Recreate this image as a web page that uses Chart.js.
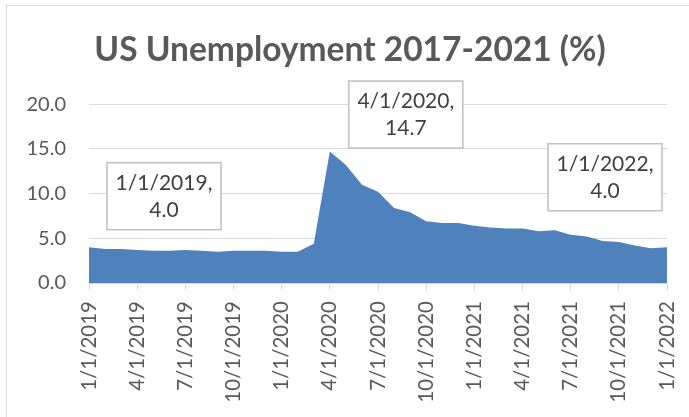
<!DOCTYPE html>
<html>
<head>
<meta charset="utf-8">
<script src="https://cdn.jsdelivr.net/npm/chart.js@4"></script>
<style>
  html, body { margin: 0; padding: 0; background: #fff; overflow: hidden; }
  #wrap { position: relative; width: 689px; height: 417px; }
  #frame { position: absolute; left: 6px; top: 5px; width: 720px; height: 440px; border: 1px solid #d9d9d9; }
  #chart { position: absolute; left: 0; top: 0; }
</style>
</head>
<body>
<div id="wrap">
  <div id="frame"></div>
  <canvas id="chart" width="689" height="417"></canvas>
</div>
<script>
// monthly dates, 1/1/2019 .. 1/1/2022
const months = [
  '1/1/2019', '2/1/2019', '3/1/2019', '4/1/2019', '5/1/2019', '6/1/2019',
  '7/1/2019', '8/1/2019', '9/1/2019', '10/1/2019', '11/1/2019', '12/1/2019',
  '1/1/2020', '2/1/2020', '3/1/2020', '4/1/2020', '5/1/2020', '6/1/2020',
  '7/1/2020', '8/1/2020', '9/1/2020', '10/1/2020', '11/1/2020', '12/1/2020',
  '1/1/2021', '2/1/2021', '3/1/2021', '4/1/2021', '5/1/2021', '6/1/2021',
  '7/1/2021', '8/1/2021', '9/1/2021', '10/1/2021', '11/1/2021', '12/1/2021',
  '1/1/2022'
];
const unemployment = [
  4.0, 3.8, 3.8, 3.7, 3.6, 3.6, 3.7, 3.6, 3.5, 3.6, 3.6, 3.6,
  3.5, 3.5, 4.4, 14.7, 13.2, 11.0, 10.2, 8.4, 7.9, 6.9, 6.7, 6.7,
  6.4, 6.2, 6.1, 6.1, 5.8, 5.9, 5.4, 5.2, 4.7, 4.6, 4.2, 3.9,
  4.0
];
const yTicks = [0, 5, 10, 15, 20];
const calloutPoints = [0, 15, 36];

const FONT = 'Lato, "Open Sans", sans-serif';

// boxed data labels, placed like the Excel callouts
const callouts = {
  id: 'callouts',
  afterDatasetsDraw(chart, args, opts) {
    const c = chart.ctx;
    const pts = chart.getDatasetMeta(0).data;
    c.save();
    calloutPoints.forEach((idx, k) => {
      const p = pts[idx];
      const off = opts.offsets[k];
      const cx = p.x + off[0], cy = p.y + off[1];
      const w = opts.width, h = opts.height;
      c.fillStyle = '#ffffff';
      c.fillRect(cx - w / 2, cy - h / 2, w, h);
      c.strokeStyle = '#bfbfbf';
      c.lineWidth = 1.5;
      c.strokeRect(cx - w / 2, cy - h / 2, w, h);
      c.fillStyle = '#404040';
      c.font = '21px ' + FONT;
      c.textAlign = 'center';
      c.textBaseline = 'middle';
      c.fillText(months[idx] + ',', cx, cy - 13.5);
      c.fillText(unemployment[idx].toFixed(1), cx, cy + 13.5);
    });
    c.restore();
  }
};

new Chart(document.getElementById('chart'), {
  type: 'line',
  data: {
    labels: months,
    datasets: [{
      data: unemployment,
      fill: 'origin',
      backgroundColor: '#4f81bd',
      borderWidth: 0,
      pointRadius: 0,
      tension: 0
    }]
  },
  options: {
    responsive: false,
    animation: false,
    layout: { padding: { left: 11, right: 0, top: 0, bottom: 0 } },
    plugins: {
      legend: { display: false },
      tooltip: { enabled: false },
      title: {
        display: true,
        text: 'US Unemployment 2017-2021 (%)',
        color: '#595959',
        font: { family: FONT, size: 33.5, weight: 'bold' },
        padding: { top: 30, bottom: 34 }
      },
      callouts: {
        width: 114,
        height: 67,
        offsets: [[75, -51], [76, -37], [-62, -70]]
      }
    },
    scales: {
      x: {
        offset: false,
        grid: {
          drawOnChartArea: false,
          tickLength: 7,
          tickColor: ctx => ctx.index % 3 === 0 ? '#d9d9d9' : 'rgba(0,0,0,0)'
        },
        border: { color: '#d9d9d9' },
        ticks: {
          autoSkip: false,
          minRotation: 90,
          maxRotation: 90,
          padding: 11,
          color: '#595959',
          font: { family: FONT, size: 20.5 },
          callback: (v, i) => i % 3 === 0 ? months[i] : ''
        },
        afterFit: s => {
          s.height = 134;
          s.paddingLeft = 0;
          s.paddingRight = 22;
        }
      },
      y: {
        min: yTicks[0],
        max: yTicks[yTicks.length - 1],
        afterBuildTicks: s => { s.ticks = yTicks.map(v => ({ value: v })); },
        grid: { color: '#d9d9d9', drawTicks: false },
        border: { display: false },
        ticks: {
          padding: 23,
          color: '#595959',
          font: { family: FONT, size: 20 },
          callback: v => v.toFixed(1)
        },
        afterFit: s => { s.width = 78; }
      }
    }
  },
  plugins: [callouts]
});
</script>
</body>
</html>
